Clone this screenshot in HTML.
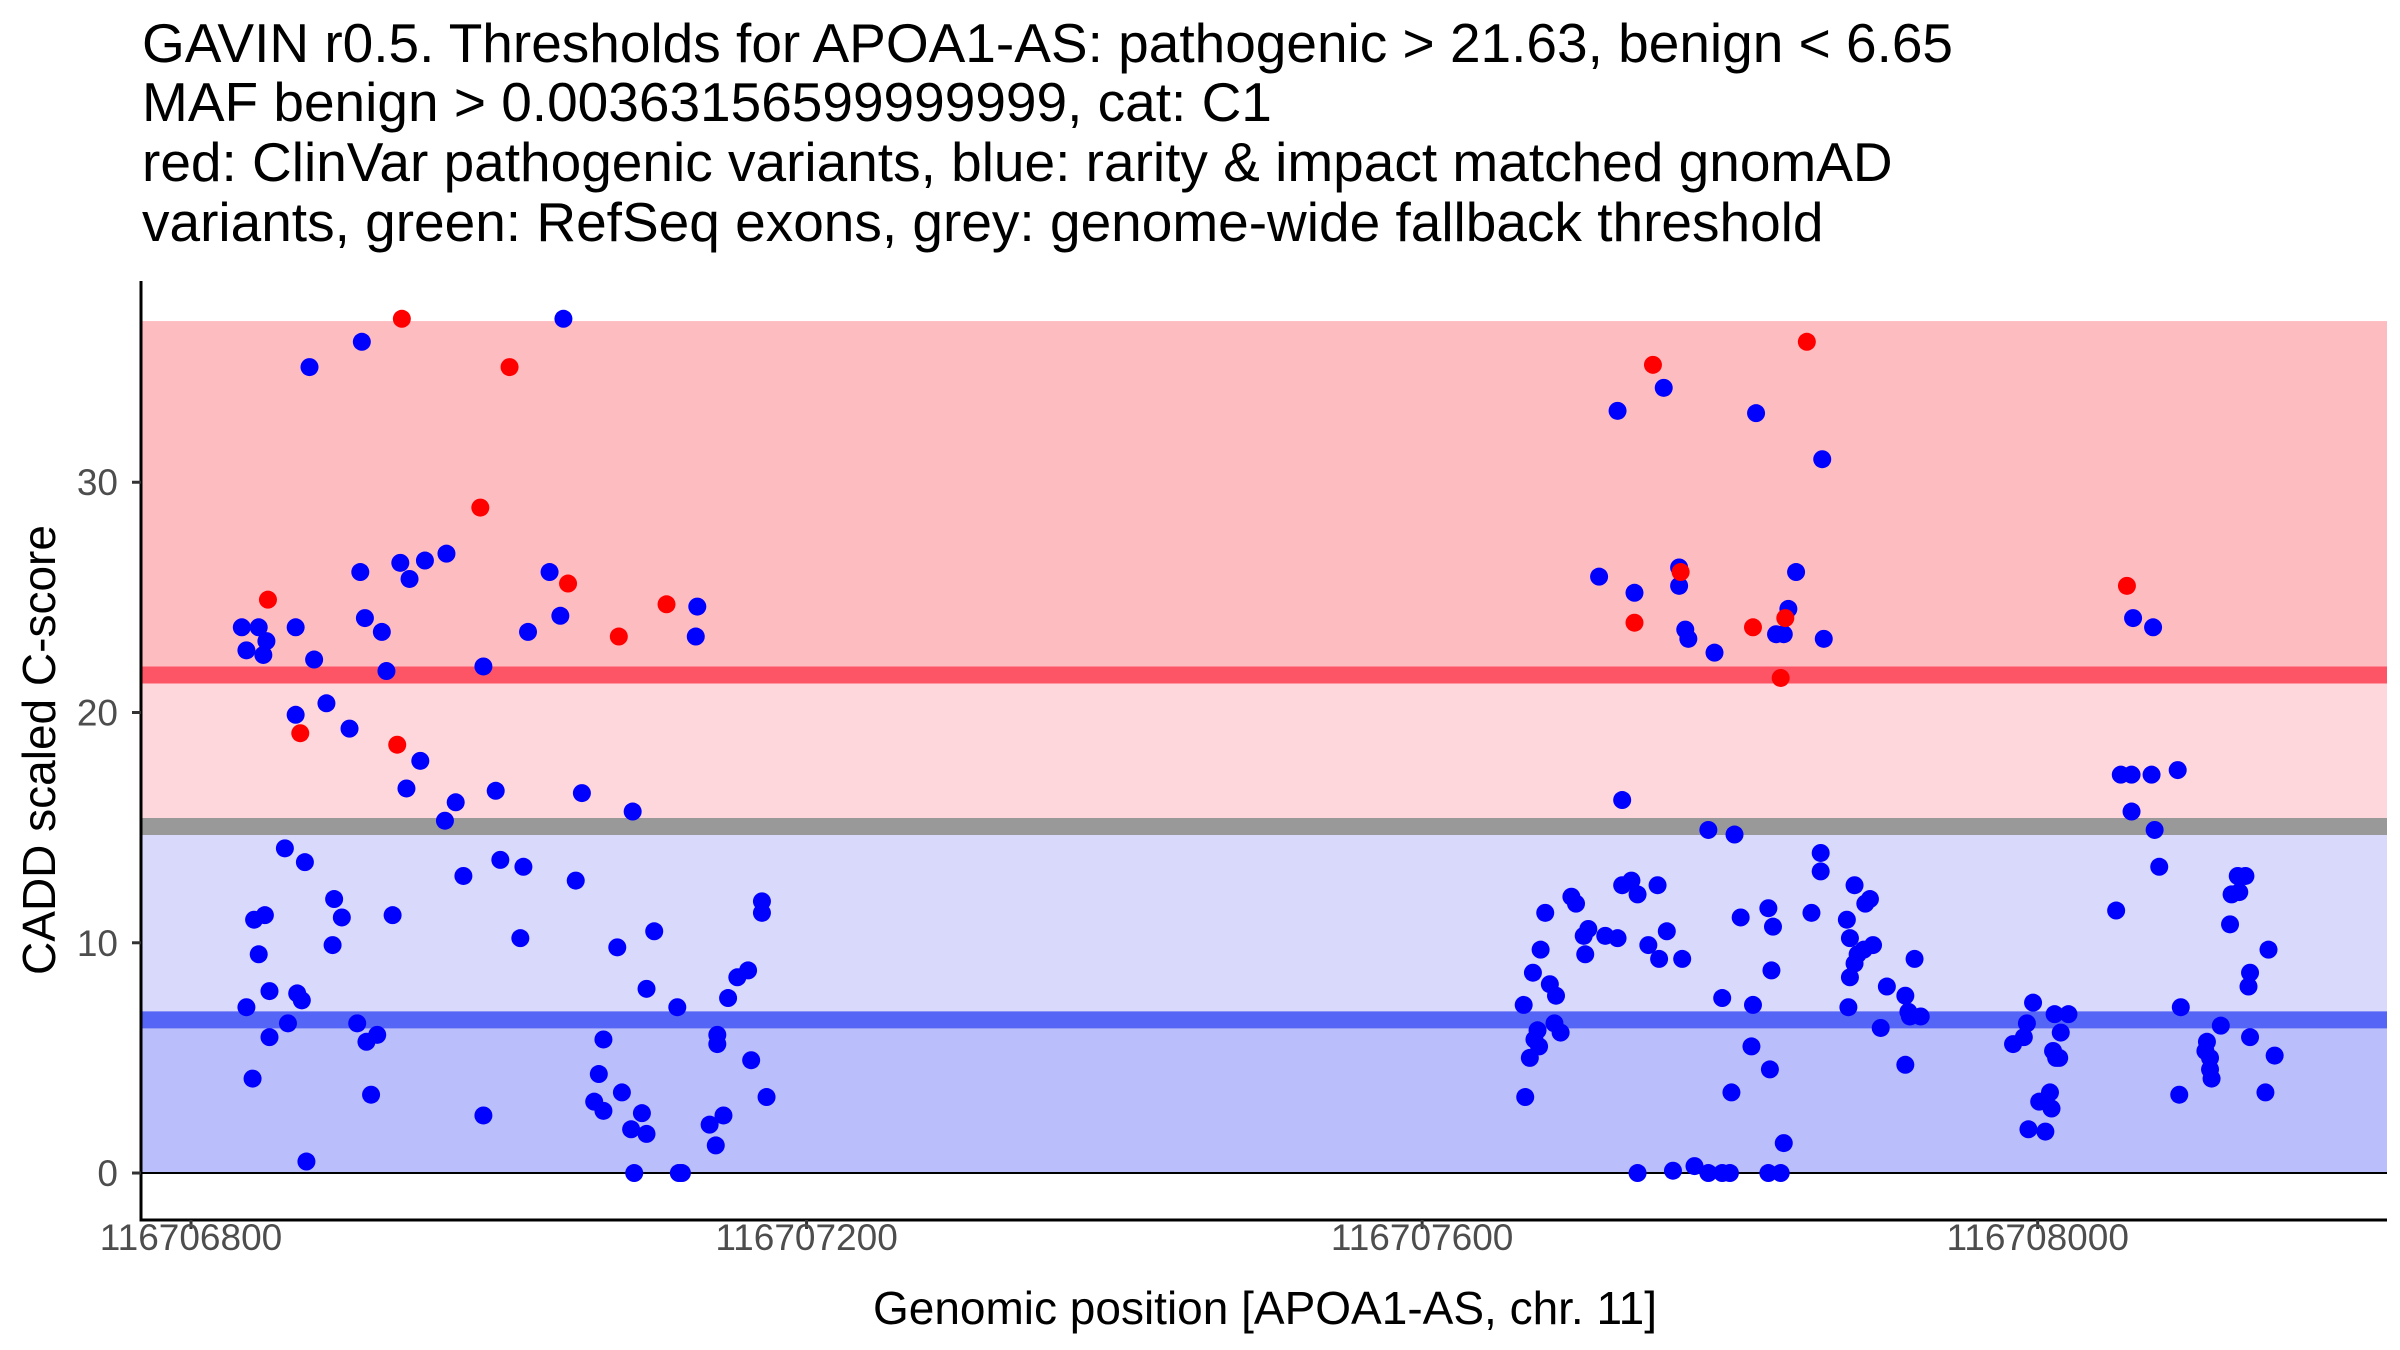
<!DOCTYPE html>
<html><head><meta charset="utf-8"><style>
html,body{margin:0;padding:0;background:#fff;}
svg{display:block;font-family:"Liberation Sans",Arial,sans-serif;}
</style></head><body>
<svg id="chart" width="2400" height="1350" viewBox="0 0 2400 1350" xmlns="http://www.w3.org/2000/svg">
<g font-size="55" fill="#000">
<text x="142" y="62">GAVIN r0.5. Thresholds for APOA1-AS: pathogenic &gt; 21.63, benign &lt; 6.65</text>
<text x="142" y="121">MAF benign &gt; 0.00363156599999999, cat: C1</text>
<text x="142" y="181">red: ClinVar pathogenic variants, blue: rarity &amp; impact matched gnomAD</text>
<text x="142" y="241">variants, green: RefSeq exons, grey: genome-wide fallback threshold</text>
</g>
<g id="bands"></g>
<g id="points"></g>
<g id="axes"></g>
<text x="1265" y="1324" font-size="46" text-anchor="middle">Genomic position [APOA1-AS, chr. 11]</text>
<text transform="translate(55,750) rotate(-90)" font-size="46" text-anchor="middle">CADD scaled C-score</text>
</svg>
<script>
const pathogenicThreshold = 21.63;
const benignThreshold = 6.65;
const fallbackThreshold = 15.05;
const bandTop = 37;
const xTicks = [116706800, 116707200, 116707600, 116708000];
const yTicks = [0, 10, 20, 30];
const redPos = [50,71,137,134,188,207,245,278,309,950,938,968,1015,1033,1036,1050,1258];
const redScore = [24.9,19.1,37.1,18.6,28.9,35,25.6,23.3,24.7,35.1,23.9,26.1,23.7,21.5,24.1,36.1,25.5];
const bluePos = [33,44,36,49,47,77,68,80,68,88,103,111,110,113,124,127,136,142,152,166,140,149,165,172,190,198,219,233,240,242,254,287,328,329,
61,74,41,48,44,36,51,40,51,63,69,72,75,93,98,92,108,114,121,117,131,177,201,216,214,190,250,268,265,262,268,277,280,286,288,293,296,301,296,316,317,319,337,341,346,342,342,349,355,362,364,371,371,374,
915,927,938,957,967,967,971,973,990,1017,1030,1035,1038,1043,1061,1060,930,
986,1003,1059,1059,866,867,870,872,877,873,875,876,880,883,887,886,890,897,900,905,906,908,919,927,930,936,940,947,953,954,959,969,940,963,977,986,995,1000,995,1001,1007,1015,1014,1025,1028,1027,1026,1025,1033,1035,1053,1076,1078,1081,1088,1091,1077,1078,1083,1081,1087,1093,1098,1102,1114,1116,1117,1124,1120,1114,
1262,1275,1254,1261,1274,1291,1261,1276,1279,1251,1184,1191,1197,1211,1210,1214,1220,1215,1208,1201,1209,1205,1194,1193,1212,1293,1292,1309,1312,1313,1312,1319,1325,1326,1330,1335,1331,1337,1338,1338,1348,1350,1354,1310];
const blueScore = [23.7,23.7,22.7,23.1,22.5,35,23.7,22.3,19.9,20.4,19.3,36.1,26.1,24.1,23.5,21.8,26.5,25.8,26.6,26.9,16.7,17.9,15.3,16.1,22,16.6,23.5,26.1,24.2,37.1,16.5,15.7,23.3,24.6,
14.1,13.5,11,11.2,9.5,7.2,7.9,4.1,5.9,6.5,7.8,7.5,0.5,11.9,11.1,9.9,6.5,5.7,6,3.4,11.2,12.9,13.6,13.3,10.2,2.5,12.7,5.8,4.3,3.1,2.7,9.8,3.5,1.9,0,2.6,1.7,10.5,8,7.2,0,0,2.1,1.2,2.5,6,5.6,7.6,8.5,8.8,4.9,11.8,11.3,3.3,
25.9,33.1,25.2,34.1,26.3,25.5,23.6,23.2,22.6,33,23.4,23.4,24.5,26.1,23.2,31,16.2,
14.9,14.7,13.9,13.1,7.3,3.3,5,8.7,9.7,5.8,6.2,5.5,11.3,8.2,7.7,6.5,6.1,12,11.7,10.3,9.5,10.6,10.3,10.2,12.5,12.7,12.1,9.9,12.5,9.3,10.5,9.3,0,0.1,0.3,0,0,0,7.6,3.5,11.1,7.3,5.5,11.5,10.7,8.8,4.5,0,0,1.3,11.3,11,10.2,12.5,11.7,11.9,7.2,8.5,9.5,9.1,9.7,9.9,6.3,8.1,7.7,7,6.8,6.8,9.3,4.7,
24.1,23.7,17.3,17.3,17.3,17.5,15.7,14.9,13.3,11.4,5.6,5.9,7.4,6.9,5.3,5,6.9,6.1,3.5,3.1,2.8,1.8,1.9,6.5,5.0,7.2,3.4,5.3,5,4.1,4.5,6.4,10.8,12.1,12.9,12.9,12.2,8.1,8.7,5.9,3.5,9.7,5.1,5.7];
const basePos = 116706800;

const X0=141, X1=2387, Y0=1220, Y1=281;
const xMin=116706767.5, xMax=116708227, yMin=-2.04, yMax=38.74;
const sx = v => X0 + (v - xMin)/(xMax - xMin)*(X1 - X0);
const sy = v => Y0 - (v - yMin)/(yMax - yMin)*(Y0 - Y1);
const NS='http://www.w3.org/2000/svg';
function mk(tag, attrs, parent){const e=document.createElementNS(NS,tag);for(const k in attrs)e.setAttribute(k,attrs[k]);parent.appendChild(e);return e;}
const bands=document.getElementById('bands');
const bandDefs=[[pathogenicThreshold,bandTop,'#fdbcc0','band-pathogenic'],[fallbackThreshold,pathogenicThreshold,'#fdd7dc','band-pathogenic-light'],[benignThreshold,fallbackThreshold,'#d8d9fb','band-benign-light'],[0,benignThreshold,'#babefa','band-benign']];
bandDefs.forEach(b=>{const r=mk('rect',{x:X0,y:sy(b[1]),width:X1-X0,height:sy(b[0])-sy(b[1]),fill:b[2]},bands);

});
[[pathogenicThreshold,'#fe5566','pathogenic-threshold-line'],[fallbackThreshold,'#999999','fallback-threshold-line'],[benignThreshold,'#5565f5','benign-threshold-line']].forEach(l=>{
const ln=mk('line',{x1:X0,x2:X1,y1:sy(l[0]),y2:sy(l[0]),stroke:l[1],'stroke-width':17},bands);

});
const zl=mk('line',{x1:X0,x2:X1,y1:sy(0),y2:sy(0),stroke:'#000','stroke-width':2},bands);


const pts=document.getElementById('points');
bluePos.forEach((p,i)=>{const c=mk('circle',{cx:sx(basePos+p),cy:sy(blueScore[i]),r:9,fill:'#0000ff'},pts);

});
redPos.forEach((p,i)=>{const c=mk('circle',{cx:sx(basePos+p),cy:sy(redScore[i]),r:9,fill:'#ff0000'},pts);

});
const ax=document.getElementById('axes');
const xa=mk('line',{x1:X0,x2:X1,y1:Y0,y2:Y0,stroke:'#000','stroke-width':3},ax);


const ya=mk('line',{x1:X0,x2:X0,y1:Y1,y2:Y0+1.5,stroke:'#000','stroke-width':3},ax);


xTicks.forEach(t=>{mk('line',{x1:sx(t),x2:sx(t),y1:Y0,y2:Y0+9,stroke:'#333','stroke-width':3},ax);
const tx=mk('text',{x:sx(t),y:1250,'font-size':37,'text-anchor':'middle',fill:'#4d4d4d'},ax);
tx.textContent=String(t);

});
yTicks.forEach(t=>{mk('line',{x1:X0-9,x2:X0,y1:sy(t),y2:sy(t),stroke:'#333','stroke-width':3},ax);
const tx=mk('text',{x:118,y:sy(t)+13,'font-size':37,'text-anchor':'end',fill:'#4d4d4d'},ax);
tx.textContent=String(t);

});
</script>
</body></html>
